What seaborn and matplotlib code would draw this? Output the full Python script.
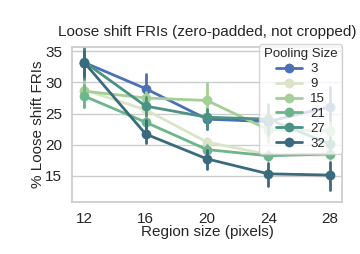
import numpy as np
import pandas as pd
import matplotlib
matplotlib.use("Agg")
import matplotlib.pyplot as plt
import seaborn as sns

# region sizes on the x axis
sizes = [12, 16, 20, 24, 28]
pools = ["3", "9", "15", "21", "27", "32"]

# point estimates (% loose shift FRIs) per pooling size
center = {
    "3":  [33.2, 29.0, 24.1, 23.7, 26.1],
    "9":  [28.8, 25.6, 20.4, 18.4, 18.3],
    "15": [28.6, 27.5, 27.1, 22.4, 22.2],
    "21": [27.8, 23.6, 19.2, 18.2, 18.5],
    "27": [33.3, 26.2, 24.4, 24.1, 20.1],
    "32": [33.2, 21.7, 17.7, 15.3, 15.1],
}
# lower / upper ends of the error bars
lower = {
    "3":  [30.5, 26.4, 22.5, 22.5, 23.0],
    "9":  [27.5, 24.5, 19.7, 17.8, 17.6],
    "15": [26.0, 26.5, 24.3, 20.5, 20.8],
    "21": [26.0, 22.3, 18.5, 17.5, 17.8],
    "27": [30.5, 24.8, 22.5, 21.5, 19.0],
    "32": [31.0, 20.2, 16.0, 13.3, 12.7],
}
upper = {
    "3":  [36.0, 31.3, 25.5, 25.0, 29.3],
    "9":  [30.0, 26.7, 21.1, 19.0, 19.0],
    "15": [30.5, 28.5, 29.9, 24.5, 23.6],
    "21": [29.6, 25.0, 19.9, 18.9, 19.2],
    "27": [35.5, 27.6, 25.8, 26.5, 21.3],
    "32": [35.0, 24.0, 19.2, 17.0, 17.2],
}

colors = ["#4a71b3", "#dbe5c6", "#a4cf96", "#6db58a", "#4a9283", "#3b6a7e"]

rows = []
for p in pools:
    for i, s in enumerate(sizes):
        for v in (lower[p][i], center[p][i], upper[p][i]):
            rows.append({"size": s, "fri": v, "pool": p})
df = pd.DataFrame(rows)

sns.set_theme(style="whitegrid")
plt.rcParams["font.family"] = ["Liberation Sans", "DejaVu Sans"]

fig = plt.figure(figsize=(3.6, 2.54), dpi=100)
ax = fig.add_axes([0.2, 0.203, 0.75, 0.612])

sns.pointplot(
    data=df, x="size", y="fri", hue="pool", hue_order=pools,
    palette=dict(zip(pools, colors)),
    estimator="median", errorbar=lambda v: (v.min(), v.max()),
    markersize=5.5, linewidth=2, err_kws={"linewidth": 2},
    ax=ax,
)

ax.set_xlim(-0.2, 4.2)
ax.set_ylim(10.7, 35.7)
ax.set_yticks([15, 20, 25, 30, 35])
ax.tick_params(labelsize=11)
ax.tick_params(axis="y", pad=1)
ax.tick_params(axis="x", pad=1)
ax.set_xlabel("Region size (pixels)", fontsize=11, labelpad=-1)
ax.set_ylabel("% Loose shift FRIs", fontsize=11, labelpad=0)
ax.set_title("Loose shift FRIs (zero-padded, not cropped)", fontsize=11, pad=8)

leg = ax.legend(title="Pooling Size", loc="upper right", bbox_to_anchor=(1.0, 1.02),
                borderaxespad=0, fontsize=9.5, title_fontsize=9.5,
                handlelength=2.0, labelspacing=0.2, borderpad=0.35,
                handletextpad=0.6)

fig.savefig("out.png", dpi=100)
